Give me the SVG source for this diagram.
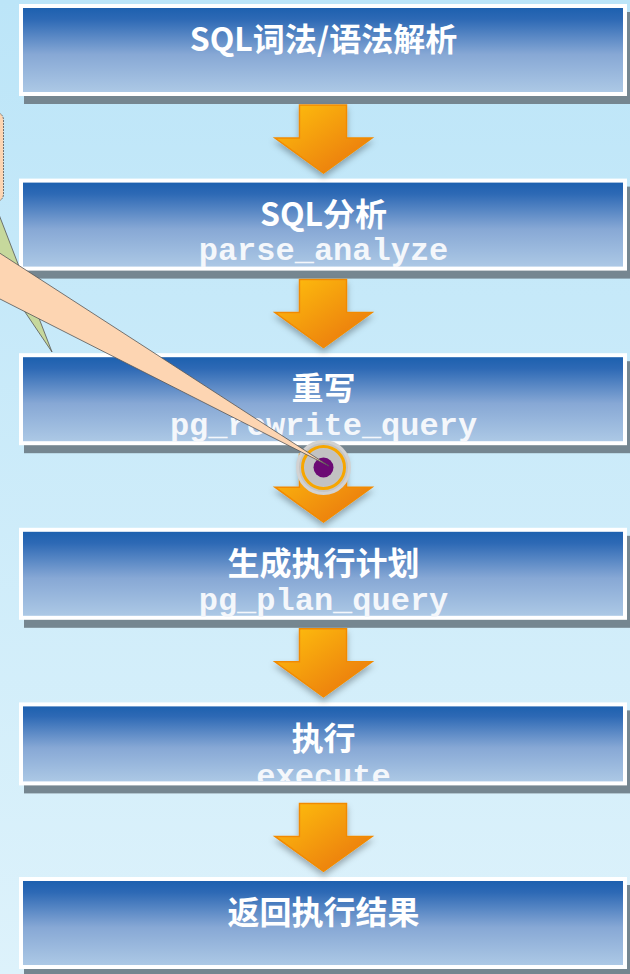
<svg xmlns="http://www.w3.org/2000/svg" xmlns:xlink="http://www.w3.org/1999/xlink" width="630" height="974" viewBox="0 0 630 974">
  <defs>
    <linearGradient id="bg" x1="0" y1="0" x2="0" y2="1">
      <stop offset="0" stop-color="#BCE5F8"/>
      <stop offset="1" stop-color="#DDF2FB"/>
    </linearGradient>
    <linearGradient id="boxg" x1="0" y1="0" x2="0" y2="1">
      <stop offset="0" stop-color="#1A5FAE"/>
      <stop offset="0.15" stop-color="#2D69B5"/>
      <stop offset="0.55" stop-color="#87A8D5"/>
      <stop offset="1" stop-color="#AECAE6"/>
    </linearGradient>
    <linearGradient id="arrg" x1="0" y1="0" x2="1" y2="1">
      <stop offset="0" stop-color="#FFC20E"/>
      <stop offset="1" stop-color="#E8700F"/>
    </linearGradient>
    <filter id="ash" x="-30%" y="-30%" width="160%" height="160%">
      <feDropShadow dx="0" dy="4" stdDeviation="3" flood-color="#000" flood-opacity="0.3"/>
    </filter>
    <path id="arrow" d="M -24 -68 H 23 V -35 H 48.5 L 0 0 L -48.5 -35 H -24 Z"/>
    <clipPath id="clip5"><rect x="22" y="705" width="602" height="76"/></clipPath>
    <style>
      .shadow { fill: #758690; }
      .box { fill: url(#boxg); stroke: #FFFFFF; stroke-width: 4; }
      .title { font-family: "Noto Sans CJK SC", "Liberation Sans", sans-serif; font-size: 32px; font-weight: bold; fill: #FFFFFF; text-anchor: middle; }
      .code { font-family: "Liberation Mono", "DejaVu Sans Mono", monospace; font-size: 32px; font-weight: bold; fill: #F4F7FB; text-anchor: middle; }
      .arr { fill: url(#arrg); stroke: #F28A00; stroke-width: 1.5; filter: url(#ash); }
      .callout { fill: #FDD5B2; stroke: #555555; stroke-width: 0.8; }
      .wedge2 { fill: #C6D89C; stroke: #555555; stroke-width: 0.8; }
    </style>
  </defs>

  <rect x="0" y="0" width="630" height="974" fill="url(#bg)"/>

  <g id="node-lex">
    <rect class="shadow" x="24" y="12" width="608" height="92"/>
    <rect class="box" x="21" y="6" width="604" height="88"/>
    <text class="title" x="323.5" y="51">SQL词法/语法解析</text>
  </g>

  <g id="node-analyze">
    <rect class="shadow" x="24" y="186.6" width="608" height="92"/>
    <rect class="box" x="21" y="180.6" width="604" height="88"/>
    <text class="title" x="323.5" y="226">SQL分析</text>
    <text class="code" x="323.5" y="260">parse_analyze</text>
  </g>

  <g id="node-rewrite">
    <rect class="shadow" x="24" y="361.2" width="608" height="92"/>
    <rect class="box" x="21" y="355.2" width="604" height="88"/>
    <text class="title" x="323.5" y="400">重写</text>
    <text class="code" x="323.5" y="435">pg_rewrite_query</text>
  </g>

  <g id="node-plan">
    <rect class="shadow" x="24" y="535.8" width="608" height="92"/>
    <rect class="box" x="21" y="529.8" width="604" height="88"/>
    <text class="title" x="323.5" y="575">生成执行计划</text>
    <text class="code" x="323.5" y="610">pg_plan_query</text>
  </g>

  <g id="node-execute">
    <rect class="shadow" x="24" y="710.4" width="608" height="83"/>
    <rect class="box" x="21" y="704.4" width="604" height="79"/>
    <text class="title" x="323.5" y="750">执行</text>
    <text class="code" x="323.5" y="786" clip-path="url(#clip5)">execute</text>
  </g>

  <g id="node-result">
    <rect class="shadow" x="24" y="885" width="608" height="92"/>
    <rect class="box" x="21" y="879" width="604" height="88"/>
    <text class="title" x="323.5" y="924">返回执行结果</text>
  </g>

  <g id="connectors">
    <use xlink:href="#arrow" class="arr" transform="translate(323.5,173)"/>
    <use xlink:href="#arrow" class="arr" transform="translate(323.5,347.6)"/>
    <use xlink:href="#arrow" class="arr" transform="translate(323.5,522.2)"/>
    <use xlink:href="#arrow" class="arr" transform="translate(323.5,696.8)"/>
    <use xlink:href="#arrow" class="arr" transform="translate(323.5,871.4)"/>
  </g>

  <g id="marker-point">
    <circle cx="323.5" cy="467.5" r="26" fill="#C4C4C4" stroke="#D2D2D2" stroke-width="3"/>
    <circle cx="323.5" cy="467.5" r="21" fill="none" stroke="#F7A600" stroke-width="3"/>
    <circle cx="323.5" cy="467.5" r="18.5" fill="#C2C2C2"/>
    <circle cx="323.5" cy="467.5" r="10" fill="#6C0A74"/>
  </g>

  <g id="callout">
    <polygon class="wedge2" points="-2,212 52,352 -2,272"/>
    <rect class="callout" x="-60" y="112" width="63.5" height="90" rx="8" stroke-dasharray="2,1"/>
    <polygon class="callout" points="-2,252 329,466 -2,298"/>
  </g>
</svg>
